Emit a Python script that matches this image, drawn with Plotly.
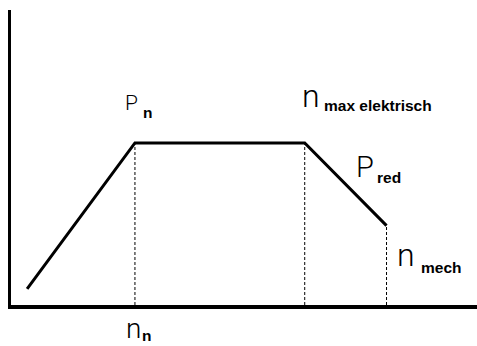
import plotly.graph_objects as go

# characteristic points: speed (relative to n_n) and power (relative to P_n)
speed = [0.13, 1.0, 2.37, 3.03]
power = [0.10, 1.0, 1.0, 0.49]

# dashed drop lines at n_n, n_max elektrisch and n_mech
drop_speed = [1.0, 2.37, 3.03]
drop_power = [1.0, 1.0, 0.49]

X_MAX = 3.76
Y_MAX = 1.82

SUB_FONT = dict(family="Liberation Sans", size=15.5, color="black", weight="bold")

# (main glyph, size, subscript, x, y of main, x, y of subscript)
# x in chart units, y in paper units so labels below the axis stay visible
labels = [
    ("P", 21, "n", 0.97, 0.685, 1.10, 0.651),
    ("n", 32, "max elektrisch", 2.42, 0.710, 2.96, 0.676),
    ("P", 29, "red", 2.86, 0.468, 3.05, 0.431),
    ("n", 32, "mech", 3.19, 0.171, 3.47, 0.126),
    ("n", 28, "n", 0.992, -0.08, 1.095, -0.105),
]

fig = go.Figure()

for xs, ys in zip(drop_speed, drop_power):
    fig.add_trace(go.Scatter(
        x=[xs, xs], y=[0, ys], mode="lines",
        line=dict(color="black", width=1, dash="3px,2px"),
        hoverinfo="skip",
    ))

fig.add_trace(go.Scatter(
    x=speed, y=power, mode="lines",
    line=dict(color="black", width=3),
    hoverinfo="skip",
))

for main, size, sub, mx, my, sx, sy in labels:
    fig.add_annotation(x=mx, y=my, yref="paper", text=main, showarrow=False,
                       font=dict(family="Roboto", size=size, color="black", weight=300),
                       xanchor="center", yanchor="middle",
                       borderpad=0, borderwidth=0)
    fig.add_annotation(x=sx, y=sy, yref="paper", text=sub, showarrow=False,
                       font=SUB_FONT, xanchor="center", yanchor="middle",
                       borderpad=0, borderwidth=0)

fig.update_layout(
    width=477, height=346,
    margin=dict(l=11, r=0, t=10, b=41),
    paper_bgcolor="white", plot_bgcolor="white",
    showlegend=False,
    xaxis=dict(range=[0, X_MAX], showgrid=False, zeroline=False,
               showticklabels=False, ticks="", showline=True,
               linecolor="black", linewidth=4),
    yaxis=dict(range=[0, Y_MAX], showgrid=False, zeroline=False,
               showticklabels=False, ticks="", showline=True,
               linecolor="black", linewidth=3),
)

fig.write_html("out.html", config={"displayModeBar": False},
               post_script="document.body.style.margin = '0';")
